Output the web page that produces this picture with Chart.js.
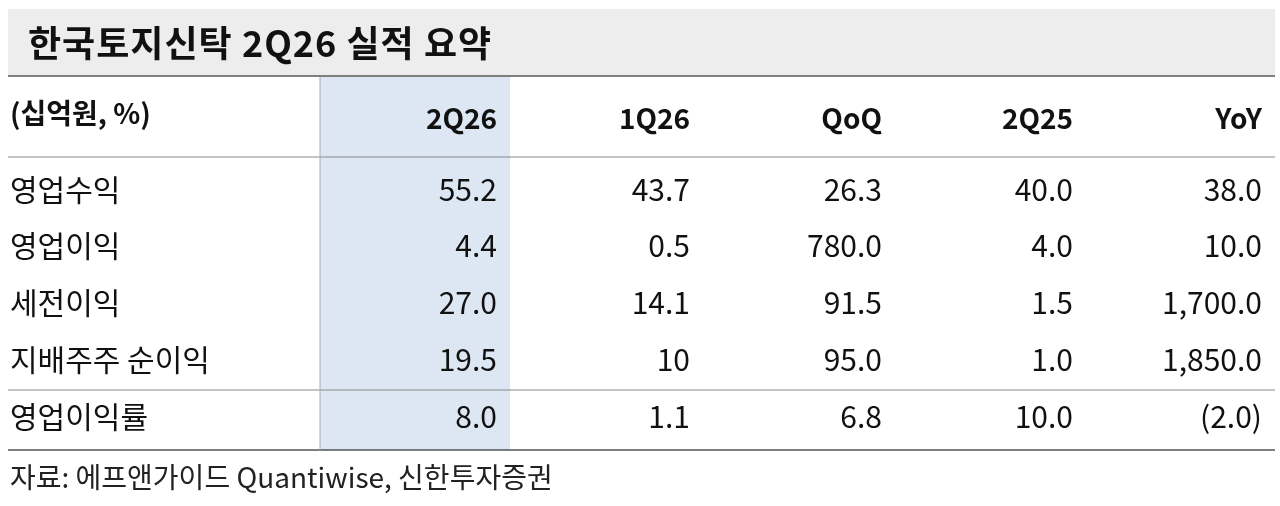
<!DOCTYPE html>
<html>
<head>
<meta charset="utf-8">
<script src="https://cdn.jsdelivr.net/npm/chart.js@4/dist/chart.umd.min.js"></script>
<style>
  html, body { margin: 0; padding: 0; background: #fff; }
  #wrap { position: relative; width: 1280px; height: 506px; }
</style>
</head>
<body>
<div id="wrap"><canvas id="tbl"></canvas></div>
<script>
// Table data
const title = '한국토지신탁 2Q26 실적 요약';
const unitLabel = '(십억원, %)';
const columns = ['2Q26', '1Q26', 'QoQ', '2Q25', 'YoY'];
const rowLabels = ['영업수익', '영업이익', '세전이익', '지배주주 순이익', '영업이익률'];
const col2Q26 = ['55.2', '4.4', '27.0', '19.5', '8.0'];
const col1Q26 = ['43.7', '0.5', '14.1', '10', '1.1'];
const colQoQ = ['26.3', '780.0', '91.5', '95.0', '6.8'];
const col2Q25 = ['40.0', '4.0', '1.5', '1.0', '10.0'];
const colYoY = ['38.0', '10.0', '1,700.0', '1,850.0', '(2.0)'];
const source = '자료: 에프앤가이드 Quantiwise, 신한투자증권';

// Layout (pixel space of the 1280x506 chart)
const colRight = [497, 690, 882, 1073, 1262];
const rowY = [190, 246, 303, 360, 417];
const font = '"Noto Sans CJK KR", "Noto Sans", sans-serif';

const tablePlugin = {
    id: 'tableDraw',
    afterDraw: function(chart) {
        const ctx = chart.ctx;
        const xs = chart.scales.x;
        const ys = chart.scales.y;
        const X = v => xs.getPixelForValue(v);
        const Y = v => ys.getPixelForValue(v);
        const cols = [col2Q26, col1Q26, colQoQ, col2Q25, colYoY];

        ctx.save();
        // title bar
        ctx.fillStyle = '#ededed';
        ctx.fillRect(X(8), Y(9), X(1275) - X(8), Y(75) - Y(9));
        // highlight column
        ctx.fillStyle = '#dce7f3';
        ctx.fillRect(X(320), Y(77), X(510) - X(320), Y(450) - Y(77));

        // rules
        const hline = function(y, color, w) {
            ctx.strokeStyle = color;
            ctx.lineWidth = w;
            ctx.beginPath();
            ctx.moveTo(X(8), Y(y));
            ctx.lineTo(X(1275), Y(y));
            ctx.stroke();
        };
        hline(76, '#555', 1.5);
        hline(157, '#888', 1);
        hline(390, '#888', 1);
        hline(450, '#555', 1.5);
        ctx.strokeStyle = '#aaa';
        ctx.lineWidth = 1;
        ctx.beginPath();
        ctx.moveTo(X(320), Y(77));
        ctx.lineTo(X(320), Y(450));
        ctx.stroke();

        ctx.fillStyle = '#111';
        ctx.textBaseline = 'middle';
        // title
        ctx.textAlign = 'left';
        ctx.font = 'bold 36px ' + font;
        ctx.letterSpacing = '1px';
        ctx.fillText(title, X(28), Y(43));
        ctx.letterSpacing = '0px';
        // header
        ctx.font = 'bold 28px ' + font;
        ctx.fillText(unitLabel, X(10), Y(113));
        ctx.textAlign = 'right';
        columns.forEach(function(c, i) {
            ctx.fillText(c, X(colRight[i]), Y(118));
        });
        // body
        ctx.font = '30px ' + font;
        rowLabels.forEach(function(r, j) {
            ctx.textAlign = 'left';
            ctx.fillText(r, X(10), Y(rowY[j]));
            ctx.textAlign = 'right';
            cols.forEach(function(col, i) {
                ctx.fillText(col[j], X(colRight[i]), Y(rowY[j]));
            });
        });
        // source
        ctx.textAlign = 'left';
        ctx.font = '28px ' + font;
        ctx.fillStyle = '#222';
        ctx.fillText(source, X(10), Y(477));
        ctx.restore();
    }
};

new Chart(document.getElementById('tbl'), {
    type: 'scatter',
    data: { datasets: [{ data: [], pointRadius: 0 }] },
    options: {
        responsive: true,
        maintainAspectRatio: false,
        animation: false,
        layout: { padding: 0 },
        plugins: { legend: { display: false }, tooltip: { enabled: false } },
        scales: {
            x: { type: 'linear', min: 0, max: 1280, display: false },
            y: { type: 'linear', min: 0, max: 506, reverse: true, display: false }
        }
    },
    plugins: [tablePlugin]
});
</script>
</body>
</html>
